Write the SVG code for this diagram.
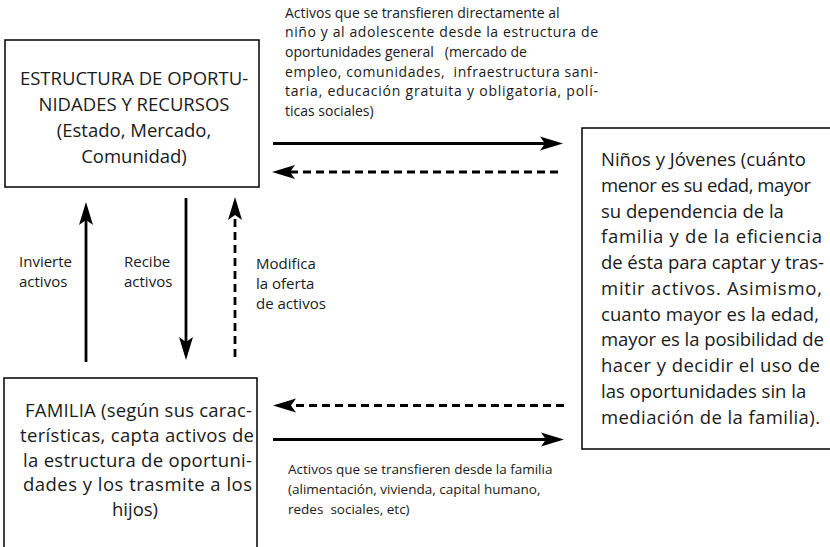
<svg xmlns="http://www.w3.org/2000/svg" width="830" height="547" viewBox="0 0 830 547">
<style>
.box{fill:#fff;stroke:#000;stroke-width:1.5}
.t{font-family:"Open Sans","Noto Sans","DejaVu Sans",sans-serif;fill:#1a1a1a;white-space:pre}
.big{font-size:18.5px}
.sm{font-size:14px}
.lab{font-size:15px}
.bt{font-size:13.5px}
.mid{text-anchor:middle}
.ln{stroke:#000;stroke-width:2.8;fill:none}
.dash{stroke-dasharray:8 5}
</style>
<defs>
<marker id="ah" markerUnits="userSpaceOnUse" markerWidth="24" markerHeight="16" refX="13" refY="7" orient="auto" overflow="visible">
<path d="M0,0 L23,7 L0,14 L5,7 Z" fill="#000" stroke="none"/>
</marker>
</defs>
<rect width="830" height="547" fill="#fff"/>
<g id="estructura">
<rect class="box" x="5" y="40" width="254" height="147"/>
<text class="t big mid" x="134" y="85">ESTRUCTURA DE OPORTU-</text>
<text class="t big mid" x="134" y="111">NIDADES Y RECURSOS</text>
<text class="t big mid" x="134" y="137">(Estado, Mercado,</text>
<text class="t big mid" x="134" y="163">Comunidad)</text>
</g>
<g id="ninos">
<rect class="box" x="582" y="128" width="260" height="321"/>
<text class="t big" x="601" y="166">Niños y Jóvenes (cuánto</text>
<text class="t big" x="601" y="192" textLength="210" lengthAdjust="spacing">menor es su edad, mayor</text>
<text class="t big" x="601" y="217.5">su dependencia de la</text>
<text class="t big" x="601" y="243" textLength="221" lengthAdjust="spacing">familia y de la eficiencia</text>
<text class="t big" x="601" y="269" textLength="223" lengthAdjust="spacing">de ésta para captar y tras-</text>
<text class="t big" x="601" y="295" textLength="221" lengthAdjust="spacing">mitir activos. Asimismo,</text>
<text class="t big" x="601" y="320.5" textLength="218" lengthAdjust="spacing">cuanto mayor es la edad,</text>
<text class="t big" x="601" y="346" textLength="223" lengthAdjust="spacing">mayor es la posibilidad de</text>
<text class="t big" x="601" y="372" textLength="219" lengthAdjust="spacing">hacer y decidir el uso de</text>
<text class="t big" x="601" y="398">las oportunidades sin la</text>
<text class="t big" x="601" y="424" textLength="219" lengthAdjust="spacing">mediación de la familia).</text>
</g>
<g id="familia">
<rect class="box" x="4" y="378" width="253" height="180"/>
<text class="t big" x="25" y="417" textLength="227" lengthAdjust="spacing">FAMILIA (según sus carac-</text>
<text class="t big" x="20" y="442" textLength="234" lengthAdjust="spacing">terísticas, capta activos de</text>
<text class="t big" x="23" y="467" textLength="229" lengthAdjust="spacing">la estructura de oportuni-</text>
<text class="t big" x="23" y="491" textLength="229" lengthAdjust="spacing">dades y los trasmite a los</text>
<text class="t big mid" x="135" y="516">hijos)</text>
</g>
<g id="connectors">
<path class="ln" d="M273,143.5 H553" marker-end="url(#ah)"/>
<path class="ln dash" d="M558,172 H282" marker-end="url(#ah)"/>
<path class="ln dash" d="M564,405.5 H283" marker-end="url(#ah)"/>
<path class="ln" d="M273,439.5 H554" marker-end="url(#ah)"/>
<path class="ln" d="M86,362 V212" marker-end="url(#ah)"/>
<path class="ln" d="M186,198 V350" marker-end="url(#ah)"/>
<path class="ln dash" d="M235,357 V207" marker-end="url(#ah)"/>
</g>
<g id="labels">
<text class="t sm" x="285" y="17.5">Activos que se transfieren directamente al</text>
<text class="t sm" x="285" y="37" textLength="313" lengthAdjust="spacing">niño y al adolescente desde la estructura de</text>
<text class="t sm" x="285" y="57">oportunidades general   (mercado de</text>
<text class="t sm" x="285" y="76.5" textLength="313" lengthAdjust="spacing">empleo, comunidades,  infraestructura sani-</text>
<text class="t sm" x="285" y="96" textLength="313" lengthAdjust="spacing">taria, educación gratuita y obligatoria, polí-</text>
<text class="t sm" x="285" y="116">ticas sociales)</text>
<text class="t lab" x="19" y="267">Invierte</text>
<text class="t lab" x="19" y="287">activos</text>
<text class="t lab" x="124" y="267">Recibe</text>
<text class="t lab" x="124" y="287">activos</text>
<text class="t lab" x="256" y="269">Modifica</text>
<text class="t lab" x="256" y="289">la oferta</text>
<text class="t lab" x="256" y="309">de activos</text>
<text class="t bt" x="288" y="474">Activos que se transfieren desde la familia</text>
<text class="t bt" x="288" y="494">(alimentación, vivienda, capital humano,</text>
<text class="t bt" x="288" y="514">redes  sociales, etc)</text>
</g>
</svg>
